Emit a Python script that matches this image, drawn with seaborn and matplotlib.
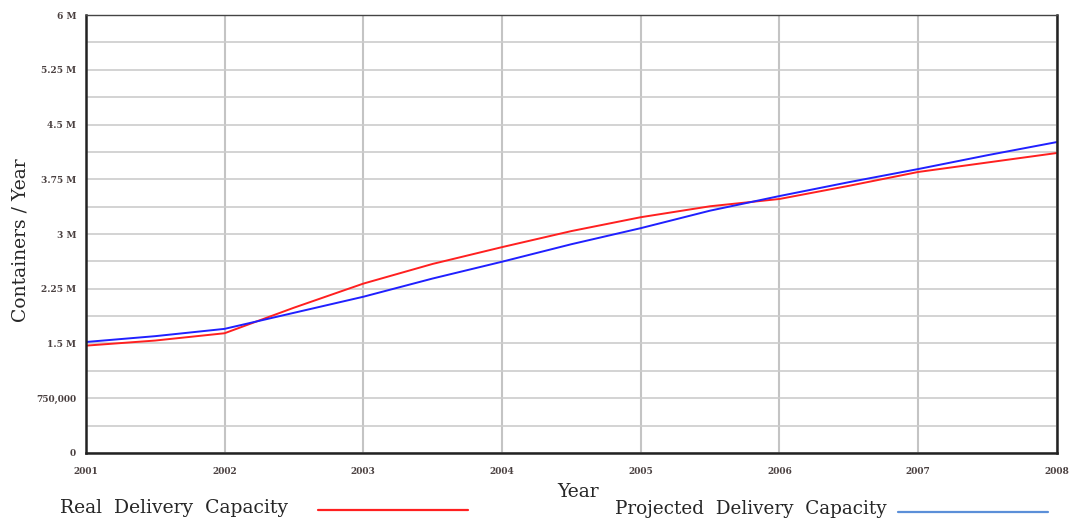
import pandas as pd
import numpy as np
import matplotlib.pyplot as plt
import seaborn as sns

# values (containers / year), half-year steps
years = [2001, 2001.5, 2002, 2002.5, 2003, 2003.5, 2004, 2004.5,
         2005, 2005.5, 2006, 2006.5, 2007, 2007.5, 2008]
real_capacity = [1.47e6, 1.54e6, 1.64e6, 1.99e6, 2.32e6, 2.59e6, 2.82e6, 3.04e6,
                 3.23e6, 3.38e6, 3.48e6, 3.66e6, 3.85e6, 3.98e6, 4.11e6]
projected_capacity = [1.52e6, 1.60e6, 1.70e6, 1.92e6, 2.14e6, 2.39e6, 2.62e6, 2.86e6,
                      3.08e6, 3.32e6, 3.52e6, 3.71e6, 3.89e6, 4.08e6, 4.26e6]
series_names = ['Real Delivery Capacity', 'Projected Delivery Capacity']
y_ticks = [0, 750000, 1.5e6, 2.25e6, 3e6, 3.75e6, 4.5e6, 5.25e6, 6e6]
y_tick_labels = ['0', '750,000', '1.5 M', '2.25 M', '3 M', '3.75 M', '4.5 M', '5.25 M', '6 M']
x_ticks = [2001, 2002, 2003, 2004, 2005, 2006, 2007, 2008]

df = pd.DataFrame({
    'year': years * 2,
    'value': real_capacity + projected_capacity,
    'series': [series_names[0]] * len(years) + [series_names[1]] * len(years),
})

sns.set_style('white')
plt.rcParams['font.family'] = ['DejaVu Serif']

fig = plt.figure(figsize=(10.73, 5.2), dpi=100)
ax = fig.add_axes([0.080, 0.129, 0.905, 0.842])

sns.lineplot(data=df, x='year', y='value', hue='series',
             palette=['#ff2020', '#2020ff'], linewidth=1.4, ax=ax, legend=False)

ax.set_xlim(2001, 2008)
ax.set_ylim(0, 6e6)
ax.set_xticks(x_ticks)
ax.set_xticklabels([str(x) for x in x_ticks], fontsize=6.5, fontweight='bold', color='#4a4040')
ax.set_yticks(np.arange(0, 6e6 + 1, 375000), minor=True)
ax.set_yticks(y_ticks)
ax.set_yticklabels(y_tick_labels, fontsize=6.5, fontweight='bold', color='#4a4040')
ax.tick_params(axis='x', length=0, pad=10)
ax.tick_params(axis='y', length=0, pad=7)
ax.grid(True, which='both', axis='y', color='#cccccc', linewidth=1.2)
ax.grid(True, which='major', axis='x', color='#c4c4c4', linewidth=1.5)
ax.set_axisbelow(True)
for side in ['left', 'bottom', 'right']:
    ax.spines[side].set_color('#222222')
    ax.spines[side].set_linewidth(1.8)
ax.spines['top'].set_color('#444444')
ax.spines['top'].set_linewidth(1.0)

ax.set_xlabel('')
ax.set_ylabel('')
fig.text(0.019, 0.538, 'Containers / Year', rotation=90, fontsize=13.5,
         ha='center', va='center')
fig.text(0.539, 0.054, 'Year', fontsize=13.5, ha='center', va='center')

# legend drawn along the bottom edge
fig.text(0.056, 0.023, 'Real  Delivery  Capacity', fontsize=13.5, ha='left', va='center')
fig.add_artist(plt.Line2D([0.296, 0.436], [0.019, 0.019], color='#ff2020', linewidth=1.6))
fig.text(0.573, 0.021, 'Projected  Delivery  Capacity', fontsize=13.2, ha='left', va='center')
fig.add_artist(plt.Line2D([0.837, 0.977], [0.015, 0.015], color='#5b8fd8', linewidth=1.6))

fig.savefig('out.png', dpi=100)
